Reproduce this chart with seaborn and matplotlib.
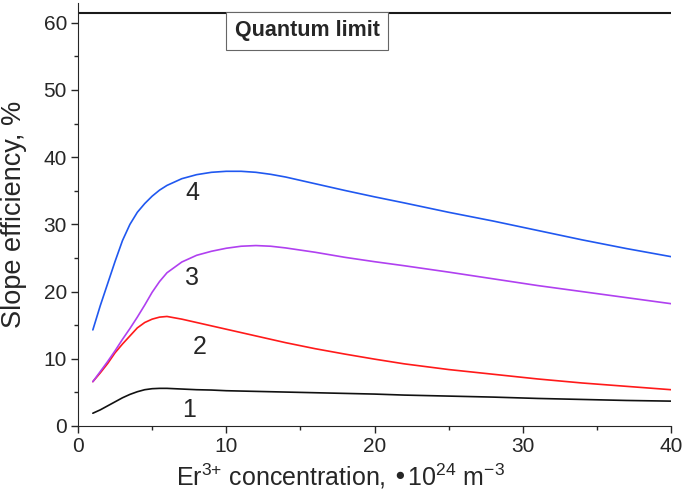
import matplotlib
matplotlib.use("Agg")
import matplotlib.pyplot as plt
import seaborn as sns
import pandas as pd
from matplotlib.ticker import MultipleLocator

# Er3+ concentration, 10^24 m^-3
conc = [1, 1.5, 2, 2.5, 3, 3.5, 4, 4.5, 5, 5.5, 6, 7, 8, 9, 10, 11, 12, 13, 14,
        16, 18, 20, 22, 25, 28, 31, 34, 37, 40]

# slope efficiency, %
eff_1 = [1.9, 2.4, 3.0, 3.6, 4.2, 4.7, 5.1, 5.4, 5.55, 5.6, 5.6, 5.5, 5.4, 5.35, 5.25,
         5.2, 5.15, 5.1, 5.05, 4.95, 4.85, 4.75, 4.6, 4.45, 4.3, 4.1, 3.95, 3.8, 3.7]
eff_2 = [6.6, 7.9, 9.3, 10.9, 12.2, 13.4, 14.6, 15.4, 15.9, 16.2, 16.3, 15.9, 15.4, 14.9,
         14.4, 13.9, 13.4, 12.9, 12.4, 11.5, 10.7, 9.95, 9.25, 8.4, 7.7, 7.0, 6.4, 5.9, 5.4]
eff_3 = [6.6, 8.1, 9.6, 11.2, 12.9, 14.5, 16.2, 18.0, 19.9, 21.5, 22.8, 24.4, 25.4, 26.0,
         26.45, 26.75, 26.85, 26.75, 26.5, 25.85, 25.1, 24.45, 23.85, 22.9, 21.9, 20.9, 20.0, 19.1, 18.2]
eff_4 = [14.3, 17.9, 21.2, 24.5, 27.6, 30.0, 31.8, 33.1, 34.2, 35.1, 35.8, 36.8, 37.4, 37.75,
         37.9, 37.9, 37.75, 37.45, 37.05, 36.05, 35.05, 34.1, 33.2, 31.8, 30.5, 29.1, 27.7, 26.4, 25.2]

curve_names = ["1", "2", "3", "4"]
curve_colors = ["#111111", "#ff1a1a", "#b040f0", "#2058f0"]
label_pos = [(7.5, 2.4), (8.2, 11.8), (7.7, 22.0), (7.7, 34.7)]
quantum_limit = 61.5

sns.set_style("ticks")
plt.rcParams["font.family"] = ["Liberation Sans", "DejaVu Sans"]
plt.rcParams["mathtext.default"] = "regular"

df = pd.DataFrame({"conc": conc * 4,
                   "eff": eff_1 + eff_2 + eff_3 + eff_4,
                   "curve": [n for n in curve_names for _ in conc]})

fig = plt.figure(figsize=(6.85, 4.95), dpi=100)
ax = fig.add_axes([0.1139, 0.1394, 0.8657, 0.8553])

sns.lineplot(data=df, x="conc", y="eff", hue="curve", palette=curve_colors,
             linewidth=1.2, legend=False, ax=ax)

for name, (lx, ly) in zip(curve_names, label_pos):
    ax.text(lx, ly, name, fontsize=18, ha="center", va="center")

ax.axhline(quantum_limit, color="#1a1a1a", linewidth=1.5)
ax.text(15.45, 58.8, "Quantum limit", fontsize=15.5, fontweight="bold",
        ha="center", va="center",
        bbox=dict(boxstyle="square,pad=0.38", facecolor="white",
                  edgecolor="#666666", linewidth=0.8))

ax.set_xlim(0, 40)
ax.set_ylim(0, 63)
ax.xaxis.set_major_locator(MultipleLocator(10))
ax.xaxis.set_minor_locator(MultipleLocator(5))
ax.yaxis.set_major_locator(MultipleLocator(10))
ax.yaxis.set_minor_locator(MultipleLocator(5))
ax.tick_params(which="major", length=5, width=1, labelsize=15, pad=3)
ax.tick_params(which="minor", length=3, width=1)

ax.set_xlabel("Er$^{3{+}}$ concentration, \u202210$^{24}$ m$^{-3}$", fontsize=18,
              labelpad=4, x=0.442)
ax.set_ylabel("Slope efficiency, %", fontsize=19.5, labelpad=12)
sns.despine(ax=ax)

fig.savefig("out.png", dpi=100)
